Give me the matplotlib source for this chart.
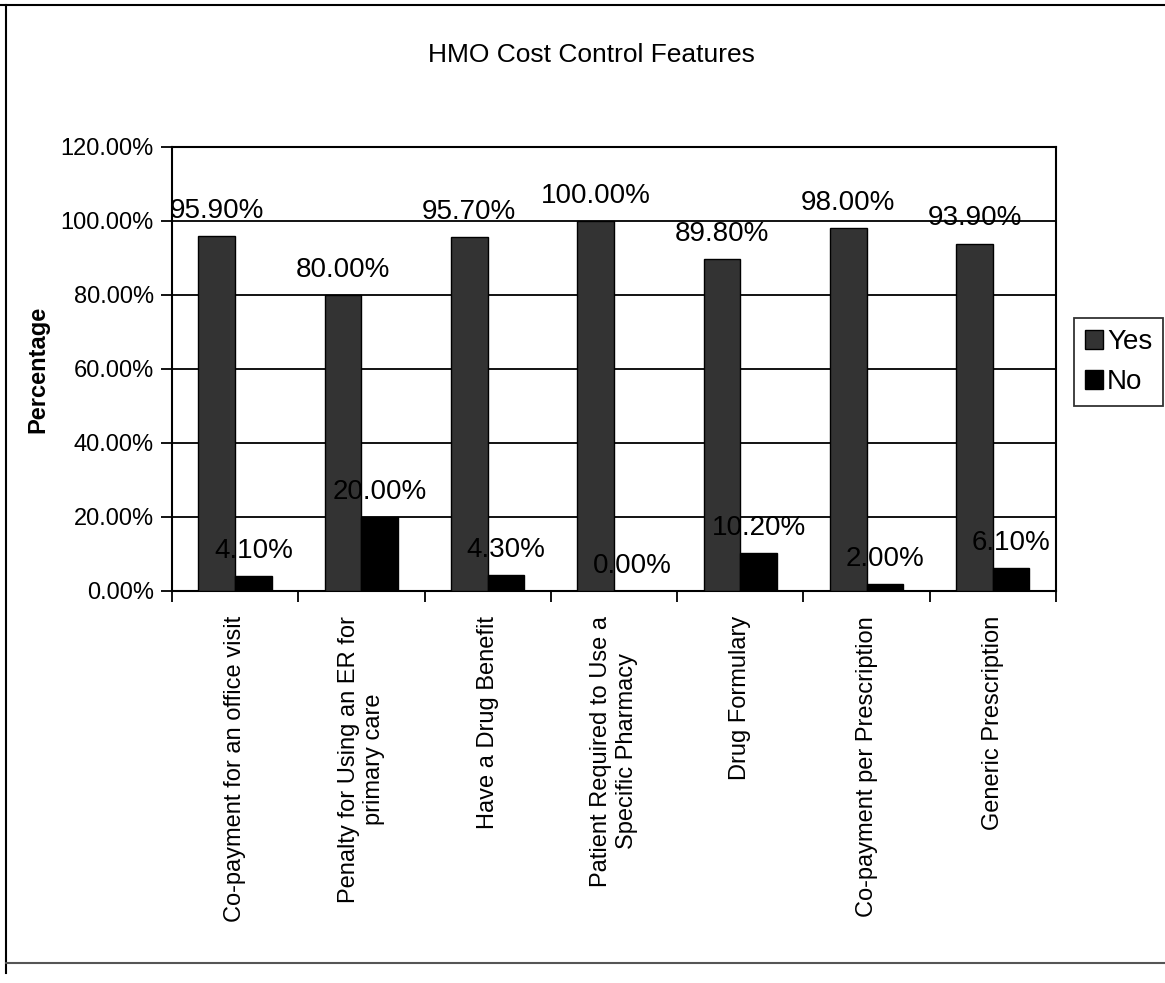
import matplotlib.pyplot as plt
import numpy as np
from matplotlib.lines import Line2D

plt.rcParams['font.family'] = ['Liberation Sans', 'DejaVu Sans']

# HMO cost control features, share of plans
features = ["Co-payment for an office visit",
            "Penalty for Using an ER for\nprimary care",
            "Have a Drug Benefit",
            "Patient Required to Use a\nSpecific Pharmacy",
            "Drug Formulary",
            "Co-payment per Prescription",
            "Generic Prescription"]
yes_pct = [95.9, 80.0, 95.7, 100.0, 89.8, 98.0, 93.9]
no_pct = [4.1, 20.0, 4.3, 0.0, 10.2, 2.0, 6.1]
y_ticks = [0, 20, 40, 60, 80, 100, 120]

fig = plt.figure(figsize=(11.65, 9.83), dpi=100)
ax = fig.add_axes([0.1476, 0.3988, 0.9064 - 0.1476, 0.8505 - 0.3988])

x = np.arange(len(features))
w = 0.29
b1 = ax.bar(x - w / 2, yes_pct, width=w, color='#333333', edgecolor='black',
            linewidth=1, label='Yes', zorder=3)
b2 = ax.bar(x + w / 2, no_pct, width=w, color='black', edgecolor='black',
            linewidth=1, label='No', zorder=3)

# value labels above each bar
for bars in (b1, b2):
    for r in bars:
        ax.annotate(f"{r.get_height():.2f}%",
                    (r.get_x() + r.get_width() / 2, r.get_height()),
                    xytext=(0, 13), textcoords='offset points',
                    ha='center', va='baseline', fontsize=20, zorder=5)

ax.set_xlim(-0.5, len(features) - 0.5)
ax.set_ylim(0, 120)
ax.set_yticks(y_ticks)
ax.set_yticklabels([f"{t:.2f}%" for t in y_ticks], fontsize=17)
ax.grid(axis='y', color='black', linewidth=1.3, zorder=1)

ax.set_xticks(x)
ax.set_xticklabels(features, rotation=90, fontsize=17, ha='center', va='top',
                   multialignment='center')
ax.set_xticks(np.arange(len(features) + 1) - 0.5, minor=True)
ax.tick_params(axis='x', which='major', length=0, pad=18)
ax.tick_params(axis='x', which='minor', length=8, width=1.3, direction='out')
ax.tick_params(axis='y', length=8, width=1.3, direction='out', pad=5)

for s in ax.spines.values():
    s.set_linewidth(1.5)

ax.set_ylabel("Percentage", fontsize=17, fontweight='bold', labelpad=8)
fig.text(0.508, 0.944, "HMO Cost Control Features", ha='center', va='center',
         fontsize=19)

leg = ax.legend(loc='center left', bbox_to_anchor=(1.02, 0.515), fontsize=20,
                frameon=True, fancybox=False, edgecolor='black',
                handlelength=0.65, handleheight=0.65, handletextpad=0.15,
                borderpad=0.4, borderaxespad=0, labelspacing=0.5)
leg.get_frame().set_linewidth(1.3)

# outer chart border
fig.add_artist(Line2D([0.005, 0.005], [0.01, 0.995], color='black', lw=1.5))
fig.add_artist(Line2D([0.0, 1.0], [0.995, 0.995], color='black', lw=1.5))
fig.add_artist(Line2D([0.005, 1.0], [0.02, 0.02], color='#555555', lw=1.5))

fig.savefig("out.png", dpi=100)
